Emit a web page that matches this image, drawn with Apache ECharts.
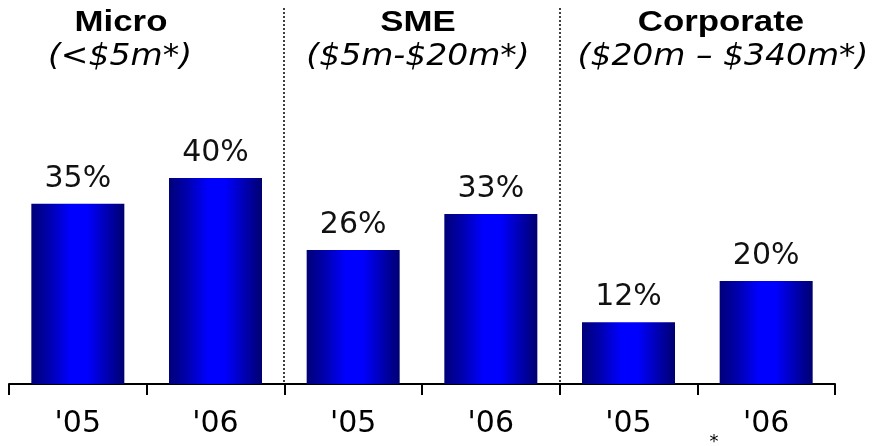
<!DOCTYPE html>
<html><head><meta charset="utf-8">
<script src="https://cdn.jsdelivr.net/npm/echarts/dist/echarts.min.js"></script>
<style>html,body{margin:0;padding:0;background:#fff}#c{width:872px;height:446px}</style>
</head><body><div id="c"></div>
<script>
const categories = ["'05", "'06", "'05", "'06", "'05", "'06"];
const values = [35, 40, 26, 33, 12, 20];
const groupTitles = ["Micro", "SME", "Corporate"];
const groupRanges = ["(<$5m*)", "($5m-$20m*)", "($20m \u2013 $340m*)"];

const titleX = [121, 418, 721];
const rangeX = [120, 418, 723];

const chart = echarts.init(document.getElementById('c'), null, {renderer: 'canvas'});
const barGrad = new echarts.graphic.LinearGradient(0, 0, 1, 0, [
  {offset: 0, color: '#000078'},
  {offset: 0.2, color: '#0000b0'},
  {offset: 0.42, color: '#0000ff'},
  {offset: 0.6, color: '#0000ff'},
  {offset: 0.82, color: '#0000b0'},
  {offset: 1, color: '#000070'}
]);

const graphics = [];
groupTitles.forEach((t, i) => {
  graphics.push({type: 'text', x: titleX[i], y: 23, scaleX: 1.2,
    style: {text: t, x: 0, y: 0, textAlign: 'center', textVerticalAlign: 'middle',
      font: 'bold 29px "Liberation Sans", Arial, sans-serif', fill: '#000'}});
  graphics.push({type: 'text', x: rangeX[i], y: 57, scaleX: 1.1,
    style: {text: groupRanges[i], x: 0, y: 0, textAlign: 'center', textVerticalAlign: 'middle',
      font: 'italic 30px "DejaVu Sans", sans-serif', fill: '#000'}});
});
graphics.push({type: 'text', x: 714, y: 442,
  style: {text: '*', textAlign: 'center', textVerticalAlign: 'middle',
    font: '18px "DejaVu Sans", sans-serif', fill: '#000'}});

chart.setOption({
  animation: false,
  grid: {left: 9, right: 37, top: 75, bottom: 62},
  xAxis: {
    type: 'category', data: categories, boundaryGap: true,
    axisLine: {lineStyle: {color: '#000', width: 2}},
    axisTick: {show: true, length: 11, lineStyle: {color: '#000', width: 2}},
    axisLabel: {color: '#000', fontSize: 30, fontFamily: '"DejaVu Sans", sans-serif', margin: 25}
  },
  yAxis: {type: 'value', min: 0, max: 60, show: false, splitLine: {show: false}},
  series: [{
    type: 'bar', data: values, barWidth: 93,
    itemStyle: {color: barGrad},
    label: {show: true, position: 'top', distance: 10, formatter: '{c}%',
      color: '#111', fontSize: 30, fontFamily: '"DejaVu Sans", sans-serif'}
  }],
  graphic: graphics
});

// dotted separators between groups, at category boundaries
const sep = [];
[2, 4].forEach(idx => {
  const a = chart.convertToPixel({xAxisIndex: 0}, idx - 1);
  const b = chart.convertToPixel({xAxisIndex: 0}, idx);
  const x = Math.round((a + b) / 2);
  const yb = chart.convertToPixel({yAxisIndex: 0}, 0);
  sep.push({type: 'line', shape: {x1: x, y1: 8, x2: x, y2: yb},
    style: {stroke: '#000', lineWidth: 1.5, lineDash: [2, 2]}, z: -1});
});
chart.setOption({graphic: graphics.concat(sep)});
</script>
</body></html>
